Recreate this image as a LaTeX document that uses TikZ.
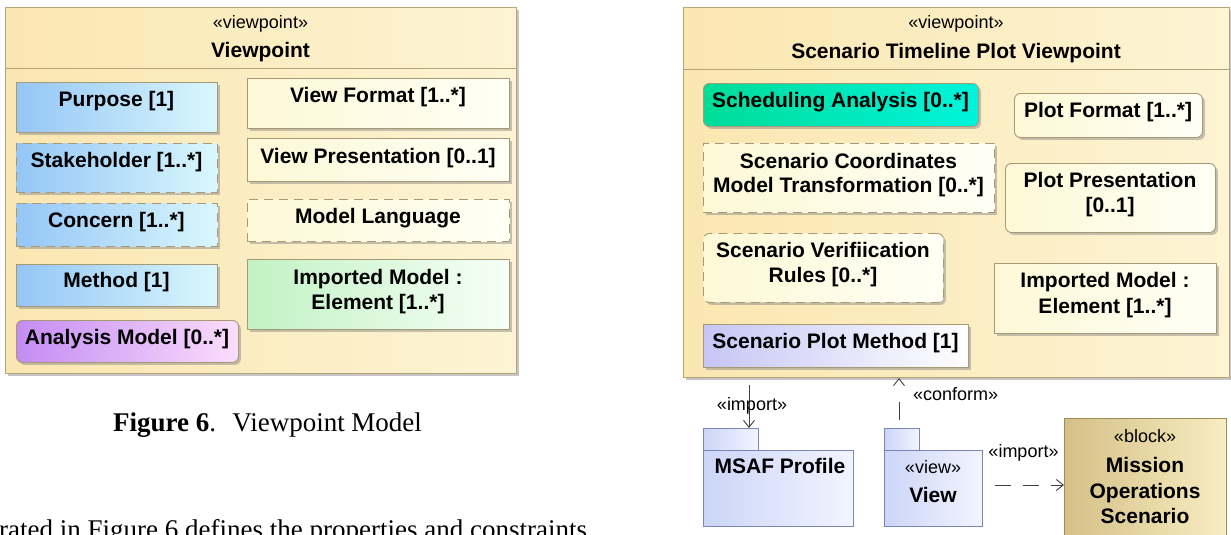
\documentclass[tikz,border=0pt]{standalone}
\usepackage{fontspec}
\setmainfont{Liberation Sans}
\newfontfamily\serifcap{Liberation Serif}
\usetikzlibrary{shadows,arrows.meta}
\definecolor{frameL}{HTML}{FAE6B0}
\definecolor{frameR}{HTML}{FDF4D4}
\definecolor{frameLine}{HTML}{B8A27A}
\definecolor{boxLine}{HTML}{A69A74}
\definecolor{bL}{HTML}{94C6F6}
\definecolor{bR}{HTML}{DAF7FD}
\definecolor{yL}{HTML}{FDF8D6}
\definecolor{yR}{HTML}{FFFFF6}
\definecolor{gL}{HTML}{C2F2C4}
\definecolor{gR}{HTML}{F6FFF6}
\definecolor{pL}{HTML}{C48CF4}
\definecolor{pR}{HTML}{FBDDFB}
\definecolor{tL}{HTML}{00DC98}
\definecolor{tR}{HTML}{00F4DC}
\definecolor{lL}{HTML}{C6C6F6}
\definecolor{lR}{HTML}{FFFFFF}
\definecolor{pkL}{HTML}{CBD5F7}
\definecolor{pkR}{HTML}{F2F5FF}
\definecolor{pkLine}{HTML}{7A86B6}
\definecolor{blkL}{HTML}{D5C087}
\definecolor{blkR}{HTML}{F7EDC2}
\definecolor{blkLine}{HTML}{A08A5C}
\definecolor{depLine}{HTML}{404040}
\begin{document}
\begin{tikzpicture}[x=1pt,y=-1pt,
  shad/.style={drop shadow={shadow xshift=2.5pt,shadow yshift=-2.5pt,fill=black!45,opacity=0.5}},
  frame/.style={draw=frameLine,line width=1pt,left color=frameL,right color=frameR,anchor=north west,inner sep=0pt,shad},
  box/.style={draw=boxLine,line width=0.9pt,anchor=north west,inner sep=0pt,shad},
  rbox/.style={box,rounded corners=6pt},
  dbox/.style={dash pattern=on 9pt off 6pt},
  blueg/.style={left color=bL,right color=bR},
  creamg/.style={left color=yL,right color=yR},
  greeng/.style={left color=gL,right color=gR},
  purpg/.style={left color=pL,right color=pR},
  tealg/.style={left color=tL,right color=tR},
  lavg/.style={left color=lL,right color=lR},
  lab/.style={anchor=base,font=\fontsize{21}{25}\selectfont\bfseries,inner sep=0pt},
  ster/.style={anchor=base,font=\fontsize{18}{21}\selectfont,inner sep=0pt},
  dep/.style={draw=depLine,line width=0.9pt,-{Straight Barb[length=7pt,width=11pt]}},
  pkg/.style={draw=pkLine,line width=1pt,left color=pkL,right color=pkR,anchor=north west,inner sep=0pt},
  blk/.style={draw=blkLine,line width=1pt,left color=blkL,right color=blkR,anchor=north west,inner sep=0pt},
  captext/.style={inner sep=0pt,font=\serifcap\fontsize{27}{32}\selectfont}
]
\useasboundingbox (0,0) rectangle (1231,535);
\clip (0,0) rectangle (1231,535);
\fill[white] (0,0) rectangle (1231,535);

% ---------------- left viewpoint ----------------
\node[frame,minimum width=511pt,minimum height=366pt] (lframe) at (5,7) {};
\draw[draw=frameLine,line width=1pt] (lframe.west |- 0,69) -- (lframe.east |- 0,69);
\node[ster] (lster) at (260.5,29) {«viewpoint»};
\node[lab] (lname) at (260.5,58) {Viewpoint};

\node[box,blueg,minimum width=201pt,minimum height=50pt] (purpose) at (16,82) {};
\node[lab] (purposet) at (116.5,106) {Purpose [1]};
\node[box,blueg,dbox,minimum width=201pt,minimum height=49pt] (stake) at (16,143) {};
\node[lab] (staket) at (116.5,167) {Stakeholder [1..*]};
\node[box,blueg,dbox,minimum width=201pt,minimum height=43pt] (concern) at (16,203) {};
\node[lab] (concernt) at (116.5,227) {Concern [1..*]};
\node[box,blueg,minimum width=201pt,minimum height=42pt] (method) at (16,264) {};
\node[lab] (methodt) at (116.5,287) {Method [1]};
\node[rbox,purpg,minimum width=222pt,minimum height=42pt] (analysis) at (16,320) {};
\node[lab] (analysist) at (127,344) {Analysis Model [0..*]};

\node[box,creamg,minimum width=262pt,minimum height=50pt] (vformat) at (247,78) {};
\node[lab] (vformatt) at (378,102) {View Format [1..*]};
\node[box,creamg,minimum width=262pt,minimum height=43pt] (vpres) at (247,138) {};
\node[lab] (vprest) at (378,163) {View Presentation [0..1]};
\node[box,creamg,dbox,minimum width=262pt,minimum height=42pt] (mlang) at (247,199) {};
\node[lab] (mlangt) at (378,223) {Model Language};
\node[box,greeng,minimum width=262pt,minimum height=70pt] (imp1box) at (247,259) {};
\node[lab] (imp1a) at (378,284) {Imported Model :};
\node[lab] (imp1b) at (378,309) {Element [1..*]};

% ---------------- right viewpoint ----------------
\node[frame,minimum width=546pt,minimum height=370pt] (rframe) at (683,7) {};
\draw[draw=frameLine,line width=1pt] (rframe.west |- 0,70) -- (rframe.east |- 0,70);
\node[ster] (rster) at (956,29) {«viewpoint»};
\node[lab] (rname) at (956,59) {Scenario Timeline Plot Viewpoint};

\node[rbox,tealg,minimum width=275pt,minimum height=43pt] (sched) at (703,83) {};
\node[lab] (schedt) at (840.5,107) {Scheduling Analysis [0..*]};
\node[box,creamg,dbox,minimum width=291pt,minimum height=69pt] (coord) at (703,143) {};
\node[lab] (coorda) at (848.5,168) {Scenario Coordinates};
\node[lab] (coordb) at (848.5,192) {Model Transformation [0..*]};
\node[rbox,creamg,dbox,minimum width=240pt,minimum height=69pt] (verif) at (703,233) {};
\node[lab] (verifa) at (823,257) {Scenario Verifiication};
\node[lab] (verifb) at (823,282) {Rules [0..*]};
\node[box,lavg,minimum width=265pt,minimum height=43pt] (plotm) at (703,324) {};
\node[lab] (plotmt) at (835.5,348) {Scenario Plot Method [1]};

\node[rbox,creamg,minimum width=188pt,minimum height=44pt] (pformat) at (1014,93) {};
\node[lab] (pformatt) at (1108,117) {Plot Format [1..*]};
\node[rbox,creamg,minimum width=210pt,minimum height=69pt] (ppres) at (1005,163) {};
\node[lab] (ppresa) at (1110,187) {Plot Presentation};
\node[lab] (ppresb) at (1110,212) {[0..1]};
\node[box,creamg,minimum width=222pt,minimum height=70pt] (imp2box) at (994,263) {};
\node[lab] (imp2a) at (1105,287) {Imported Model :};
\node[lab] (imp2b) at (1105,313) {Element [1..*]};

% ---------------- packages and block ----------------
\node[pkg,minimum width=55pt,minimum height=22pt] (msaftab) at (703,428) {};
\node[pkg,minimum width=150pt,minimum height=76pt] (msaf) at (703,450) {};
\node[lab] (msaft) at (780,473) {MSAF Profile};

\node[pkg,minimum width=35pt,minimum height=22pt] (viewtab) at (884,428) {};
\node[pkg,minimum width=98pt,minimum height=76pt] (view) at (884,450) {};
\node[ster] (viewster) at (933,473) {«view»};
\node[lab] (viewt) at (933,502) {View};

\node[blk,minimum width=162pt,minimum height=140pt] (block) at (1064,418) {};
\node[ster] (blkster) at (1145,442) {«block»};
\node[lab] (blka) at (1145,472) {Mission};
\node[lab] (blkb) at (1145,498) {Operations};
\node[lab] (blkc) at (1145,523) {Scenario};

% ---------------- connectors ----------------
\coordinate (impstart) at (749,385);
\draw[dep] (impstart) -- (impstart |- msaftab.north);
\node[ster,anchor=base] (impl1) at (752,410) {«import»};

\coordinate (cfstart) at (899,428);
\draw[dep,dash pattern=on 0pt off 8pt on 18pt off 80pt] (cfstart) -- (cfstart |- rframe.south);
\node[ster,anchor=base west] (cfl) at (913,400) {«conform»};

\coordinate (imp2y) at (0,485);
\draw[dep,dash pattern=on 16pt off 12pt,dash phase=16pt] (view.east |- imp2y) -- (block.west |- imp2y);
\node[ster,anchor=base] (impl2) at (1023.5,457) {«import»};

% ---------------- caption and text ----------------
\node[captext,anchor=base west] (caption) at (113,431) {\textbf{Figure 6}.\hspace{0.6em}Viewpoint Model};
\node[captext,anchor=base west] (bodytext) at (-1,538) {rated in Figure 6 defines the properties and constraints};
\end{tikzpicture}
\end{document}
